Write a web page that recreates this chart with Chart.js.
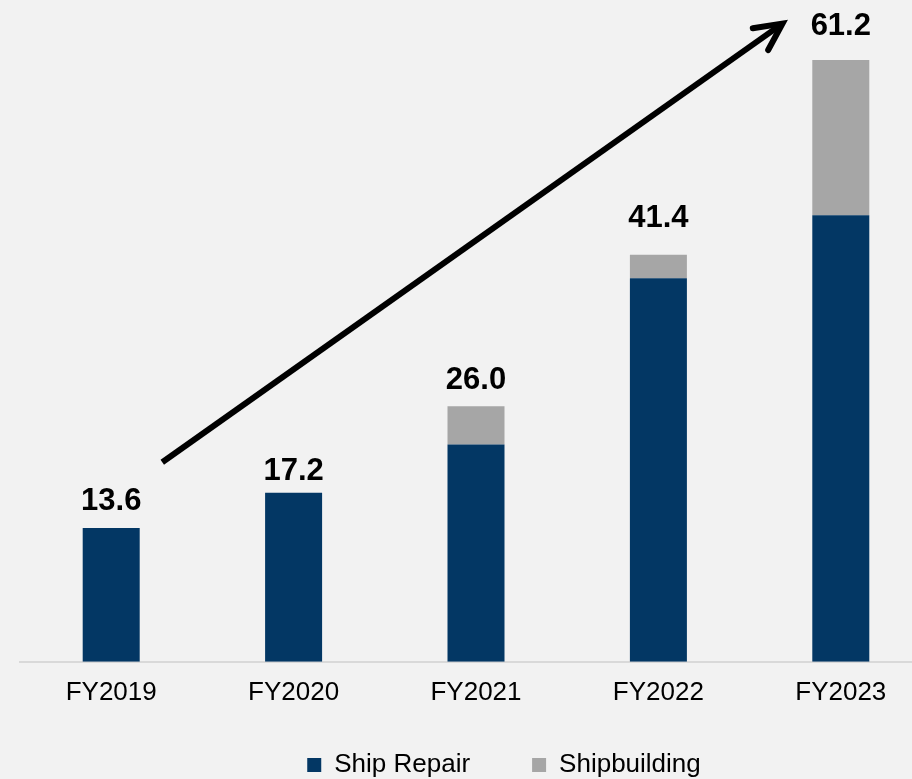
<!DOCTYPE html>
<html>
<head>
<meta charset="utf-8">
<script src="https://cdn.jsdelivr.net/npm/chart.js@4/dist/chart.umd.min.js"></script>
<style>
  html, body { margin: 0; padding: 0; background: #f2f2f2; overflow: hidden; }
  #wrap { width: 988px; height: 779px; position: relative; }
</style>
</head>
<body>
<div id="wrap"><canvas id="chart"></canvas></div>
<script>
// Daten
const labels = ['FY2019', 'FY2020', 'FY2021', 'FY2022', 'FY2023'];
const shipRepair = [13.6, 17.2, 22.1, 39.0, 45.4];
const shipbuilding = [0, 0, 3.9, 2.4, 15.8];
const totals = ['13.6', '17.2', '26.0', '41.4', '61.2'];
// Pfeil (in Datenkoordinaten: Kategorie-Index, Wert)
const arrowFrom = [0.28, 20.3];
const arrowTo = [3.68, 64.9];

const FONT = "Arial, 'Liberation Sans', sans-serif";
// Abstand Summenlabel -> Balkenoberkante (px), wie im Original leicht unregelmaessig
const labelGap = [18, 13, 17, 28, 25];

// Summen ueber den Balken und Pfeil zeichnen
const overlay = {
  id: 'overlay',
  afterDatasetsDraw(chart) {
    const ctx = chart.ctx;
    const x = chart.scales.x, y = chart.scales.y;
    ctx.save();
    ctx.fillStyle = '#000';
    ctx.font = 'bold 31px ' + FONT;
    ctx.textAlign = 'center';
    ctx.textBaseline = 'alphabetic';
    labels.forEach((l, i) => {
      const top = y.getPixelForValue(shipRepair[i] + shipbuilding[i]);
      ctx.fillText(totals[i], x.getPixelForValue(i), top - labelGap[i]);
    });

    const x1 = x.getPixelForValue(arrowFrom[0]), y1 = y.getPixelForValue(arrowFrom[1]);
    const x2 = x.getPixelForValue(arrowTo[0]), y2 = y.getPixelForValue(arrowTo[1]);
    const ang = Math.atan2(y2 - y1, x2 - x1);
    const head = 30, spread = 0.46;
    ctx.strokeStyle = '#000';
    ctx.lineWidth = 6;
    ctx.lineCap = 'butt';
    ctx.beginPath();
    ctx.moveTo(x1, y1);
    ctx.lineTo(x2 - 3 * Math.cos(ang), y2 - 3 * Math.sin(ang));
    ctx.stroke();
    ctx.lineCap = 'round';
    ctx.lineJoin = 'miter';
    ctx.beginPath();
    ctx.moveTo(x2 - head * Math.cos(ang - spread), y2 - head * Math.sin(ang - spread));
    ctx.lineTo(x2, y2);
    ctx.lineTo(x2 - head * Math.cos(ang + spread), y2 - head * Math.sin(ang + spread));
    ctx.stroke();
    ctx.restore();
  }
};

new Chart(document.getElementById('chart'), {
  type: 'bar',
  data: {
    labels: labels,
    datasets: [
      { label: 'Ship Repair', data: shipRepair, backgroundColor: '#033764' },
      { label: 'Shipbuilding', data: shipbuilding, backgroundColor: '#a6a6a6' }
    ]
  },
  options: {
    responsive: true,
    maintainAspectRatio: false,
    animation: false,
    categoryPercentage: 1,
    barPercentage: 0.3125,
    layout: { padding: { left: 20, top: 0, right: 0, bottom: -9 } },
    plugins: {
      legend: {
        position: 'bottom',
        // leerer Titel mit negativem Abstand, damit die Eintraege weiter oben sitzen
        title: { display: true, text: '', font: { size: 1 }, padding: { top: -20, bottom: 0 } },
        labels: {
          color: '#000',
          font: { family: FONT, size: 26 },
          boxWidth: 14,
          boxHeight: 14,
          padding: 62
        }
      },
      tooltip: { enabled: false }
    },
    scales: {
      x: {
        stacked: true,
        grid: { display: false, drawTicks: false },
        border: { display: true, color: '#d9d9d9', width: 2 },
        ticks: { color: '#000', font: { family: FONT, size: 26 }, padding: 15 },
        afterFit(s) { s.height = 47; }
      },
      y: {
        stacked: true,
        display: false,
        min: 0,
        max: 67.3
      },
      y2: {
        position: 'right',
        display: true,
        grid: { display: false },
        border: { display: false },
        ticks: { display: false },
        afterFit(s) { s.width = 56; }
      }
    }
  },
  plugins: [overlay]
});
</script>
</body>
</html>
